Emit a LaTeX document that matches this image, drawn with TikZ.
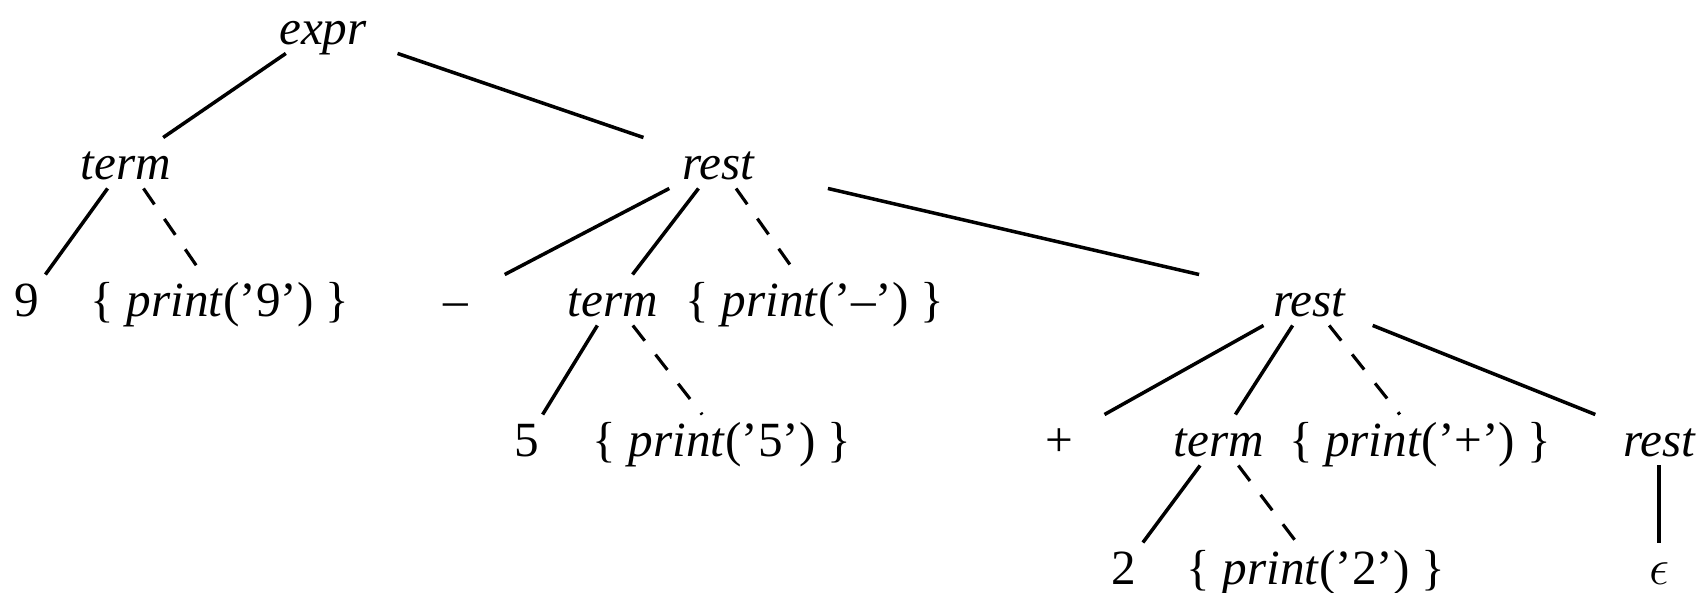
\documentclass[tikz,border=0pt]{standalone}
\usepackage{fontspec}
\setmainfont{Liberation Serif}
\usepackage{tikz}
\usetikzlibrary{positioning}
\colorlet{colTrazo}{black}
\newcommand{\accion}[1]{\{ \textit{print}('#1') \}}
\tikzset{
  nodoBase/.style={
    font=\fontsize{14}{16}\selectfont, text=colTrazo,
    minimum width=3cm, inner xsep=0pt, inner ysep=2.3pt,
    text height=9.5pt, text depth=0pt
  },
  nodoVariable/.style={nodoBase, font=\fontsize{14}{16}\selectfont\itshape},
  nodoTerminal/.style={nodoBase},
  nodoAccion/.style={nodoBase},
  arista/.style={line width=1pt, colTrazo},
  aristaAccion/.style={line width=0.9pt, colTrazo, dash pattern=on 5.5pt off 5pt},
}
\begin{document}
\begin{tikzpicture}
    \useasboundingbox (0,0) rectangle (17.03,-5.93);
    % nivel 0 y 1
    \node[nodoVariable] (expr) at (3.23,-0.28) {expr};
    \node[nodoVariable] (termA) at (1.26,-1.63) {term};
    \node[nodoVariable] (restA) at (7.18,-1.63) {rest};
    % nivel 2
    \node[nodoTerminal] (nueve) at (0.27,-3.00) {9};
    \node[nodoAccion] (accNueve) at (2.20,-3.00) {\accion{9}};
    \node[nodoTerminal] (menos) at (4.56,-3.00) {--};
    \node[nodoVariable] (termB) at (6.13,-3.00) {term};
    \node[nodoAccion] (accMenos) at (8.15,-3.00) {\accion{--}};
    \node[nodoVariable] (restB) at (13.09,-3.00) {rest};
    % nivel 3
    \node[nodoTerminal] (cinco) at (5.27,-4.40) {5};
    \node[nodoAccion] (accCinco) at (7.22,-4.40) {\accion{5}};
    \node[nodoTerminal] (mas) at (10.59,-4.40) {+};
    \node[nodoVariable] (termC) at (12.19,-4.40) {term};
    \node[nodoAccion] (accMas) at (14.20,-4.40) {\accion{+}};
    \node[nodoVariable] (restC) at (16.59,-4.40) {rest};
    % nivel 4
    \node[nodoTerminal] (dos) at (11.24,-5.68) {2};
    \node[nodoAccion] (accDos) at (13.16,-5.68) {\accion{2}};
    \node[nodoTerminal] (vacio) at (16.59,-5.68) {$\epsilon$};

    \draw[arista] (expr) -- (termA);
    \draw[arista] (expr) -- (restA);
    \draw[arista] (termA) -- (nueve);
    \draw[aristaAccion] (termA) -- (accNueve);
    \draw[arista] (restA) -- (menos);
    \draw[arista] (restA) -- (termB);
    \draw[aristaAccion] (restA) -- (accMenos);
    \draw[arista] (restA) -- (restB);
    \draw[arista] (termB) -- (cinco);
    \draw[aristaAccion] (termB) -- (accCinco);
    \draw[arista] (restB) -- (mas);
    \draw[arista] (restB) -- (termC);
    \draw[aristaAccion] (restB) -- (accMas);
    \draw[arista] (restB) -- (restC);
    \draw[arista] (termC) -- (dos);
    \draw[aristaAccion] (termC) -- (accDos);
    \draw[arista] (restC) -- (vacio);
  \end{tikzpicture}
\end{document}
